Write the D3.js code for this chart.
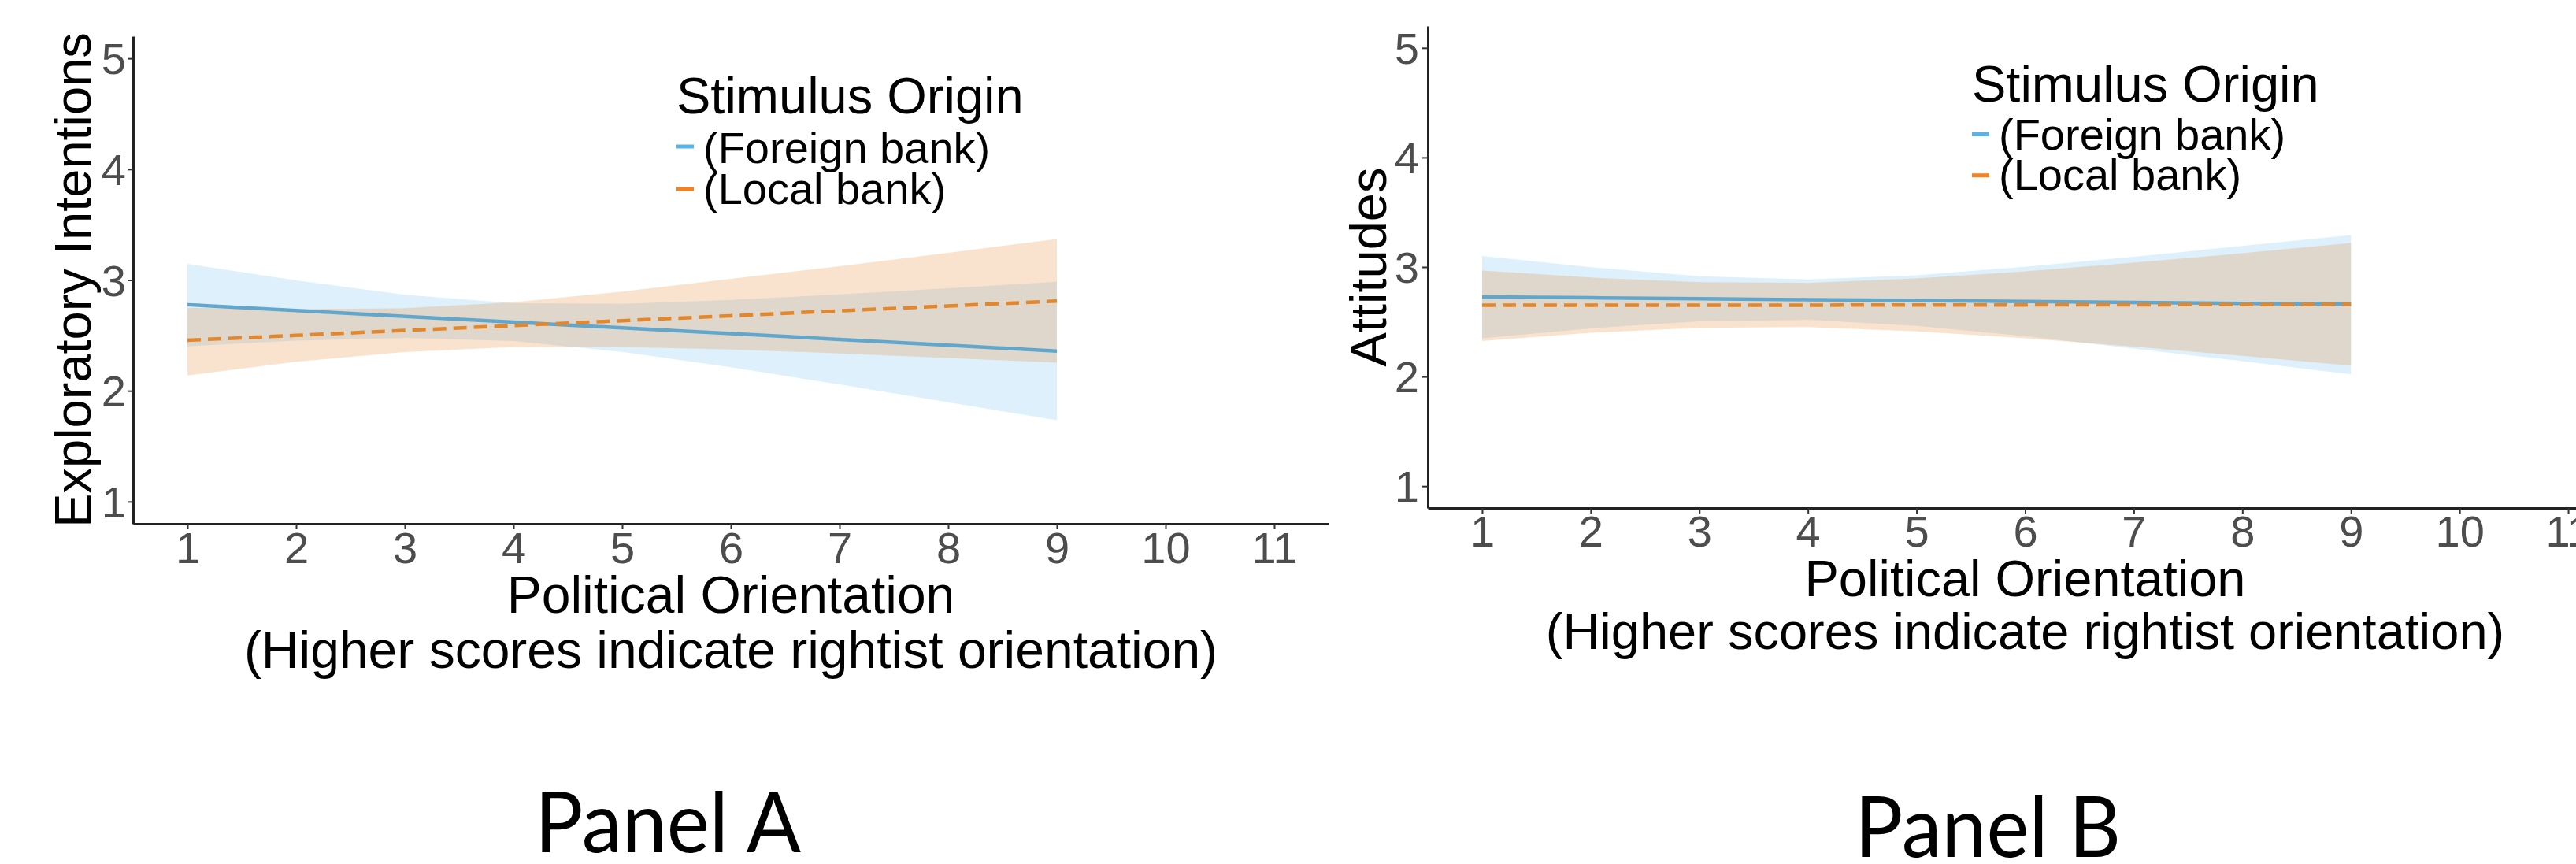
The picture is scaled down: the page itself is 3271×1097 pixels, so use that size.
<!DOCTYPE html>
<html>
<head>
<meta charset="utf-8">
<script src="https://cdn.jsdelivr.net/npm/d3@7"></script>
<style>
  html, body { margin: 0; padding: 0; background: #ffffff; }
  svg { display: block; }
</style>
</head>
<body>
<svg id="chart" width="3271" height="1097"></svg>
<script>
// ---------------- DATA ----------------
const xTicks = [1, 2, 3, 4, 5, 6, 7, 8, 9, 10, 11];
const yTicks = [1, 2, 3, 4, 5];
const xPoints = [1, 2, 3, 4, 5, 6, 7, 8, 9];
const seriesNames = ["(Foreign bank)", "(Local bank)"];
const legendTitle = "Stimulus Origin";
const xTitleLines = ["Political Orientation", "(Higher scores indicate rightist orientation)"];
const panelLabels = ["Panel A", "Panel B"];
const yTitles = ["Exploratory Intentions", "Attitudes"];

// Panel A: Exploratory Intentions
const aForeignFit  = [2.777, 2.725, 2.672, 2.620, 2.568, 2.516, 2.464, 2.411, 2.359];
const aForeignLow  = [2.402, 2.453, 2.477, 2.450, 2.351, 2.212, 2.058, 1.897, 1.734];
const aForeignHigh = [3.145, 2.997, 2.867, 2.790, 2.785, 2.820, 2.870, 2.925, 2.984];
const aLocalFit    = [2.456, 2.500, 2.545, 2.589, 2.633, 2.677, 2.722, 2.766, 2.810];
const aLocalLow    = [2.138, 2.263, 2.350, 2.395, 2.396, 2.373, 2.338, 2.297, 2.253];
const aLocalHigh   = [2.750, 2.737, 2.745, 2.800, 2.895, 3.010, 3.125, 3.245, 3.370];

// Panel B: Attitudes
const bForeignFit  = [2.727, 2.719, 2.710, 2.702, 2.694, 2.685, 2.677, 2.668, 2.660];
const bForeignLow  = [2.349, 2.440, 2.504, 2.518, 2.463, 2.369, 2.255, 2.140, 2.020];
const bForeignHigh = [3.100, 2.998, 2.916, 2.886, 2.925, 3.001, 3.093, 3.192, 3.292];
const bLocalFit    = [2.651, 2.651, 2.652, 2.652, 2.653, 2.654, 2.655, 2.657, 2.658];
const bLocalLow    = [2.325, 2.400, 2.445, 2.452, 2.413, 2.350, 2.273, 2.189, 2.100];
const bLocalHigh   = [2.968, 2.904, 2.861, 2.855, 2.895, 2.960, 3.039, 3.125, 3.219];

// ---------------- STYLE ----------------
const FONT = "'Liberation Sans', Arial, Helvetica, sans-serif";
const blueFill = "#56B4E9", orangeFill = "#E67E22";
const blueLine = "#63a6cc", orangeLine = "#e2872c";
const blueKey = "#56B4E9", orangeKey = "#F5821F";

const svg = d3.select("#chart");

const panels = [
  {
    left: 169, right: 1687, top: 46, bottom: 665,
    data: [
      {fit: aForeignFit, low: aForeignLow, high: aForeignHigh},
      {fit: aLocalFit, low: aLocalLow, high: aLocalHigh}
    ],
    yTitle: yTitles[0], yTitleX: 115, titleSize: 66, yTitleSize: 65,
    xPad: 3, yPad: 2,
    xTitleBase: [778, 848],
    legend: {x: 859, titleBase: 144, itemBase: [207, 259], keyY: [186, 240]},
    label: panelLabels[0], labelX: 848, labelBase: 1082
  },
  {
    left: 1813, right: 3330, top: 33, bottom: 645,
    data: [
      {fit: bForeignFit, low: bForeignLow, high: bForeignHigh},
      {fit: bLocalFit, low: bLocalLow, high: bLocalHigh}
    ],
    yTitle: yTitles[1], yTitleX: 1760, titleSize: 65, yTitleSize: 65,
    xPad: 2, yPad: 4,
    xTitleBase: [757, 824],
    legend: {x: 2504, titleBase: 129, itemBase: [189.5, 241], keyY: [170.5, 222.7]},
    label: panelLabels[1], labelX: 2524, labelBase: 1088
  }
];

panels.forEach(p => {
  const g = svg.append("g");
  const x = d3.scaleLinear().domain([0.5, 11.5]).range([p.left, p.right]);
  const y = d3.scaleLinear().domain([0.8, 5.2]).range([p.bottom, p.top]);

  const fills = [blueFill, orangeFill];
  const alphas = [0.2, 0.22];
  const lineCols = [blueLine, orangeLine];
  const dashes = [null, "17,9"];

  // ribbons
  p.data.forEach((s, i) => {
    const area = d3.area()
      .x((d, j) => x(xPoints[j]))
      .y0((d, j) => y(s.low[j]))
      .y1((d, j) => y(s.high[j]));
    g.append("path")
      .attr("d", area(xPoints))
      .attr("fill", fills[i])
      .attr("fill-opacity", alphas[i]);
  });
  // lines
  p.data.forEach((s, i) => {
    const line = d3.line()
      .x((d, j) => x(xPoints[j]))
      .y((d, j) => y(s.fit[j]));
    const path = g.append("path")
      .attr("d", line(xPoints))
      .attr("fill", "none")
      .attr("stroke", lineCols[i])
      .attr("stroke-width", 4.5);
    if (dashes[i]) path.attr("stroke-dasharray", dashes[i]);
  });

  // axes
  const xAxis = d3.axisBottom(x).tickValues(xTicks).tickSize(7).tickSizeOuter(0)
    .tickPadding(p.xPad).tickFormat(d3.format("d"));
  const yAxis = d3.axisLeft(y).tickValues(yTicks).tickSize(7).tickSizeOuter(0)
    .tickPadding(p.yPad).tickFormat(d3.format("d"));

  const gx = g.append("g").attr("transform", `translate(0,${p.bottom})`).call(xAxis);
  const gy = g.append("g").attr("transform", `translate(${p.left},0)`).call(yAxis);
  [gx, gy].forEach(ax => {
    ax.attr("font-family", FONT).attr("font-size", 56);
    ax.select(".domain").attr("stroke", "#222").attr("stroke-width", 3);
    ax.selectAll(".tick line").attr("stroke", "#333").attr("stroke-width", 2);
    ax.selectAll(".tick text").attr("fill", "#4d4d4d");
  });
  gy.selectAll(".tick text").attr("dy", "0.35em");

  // axis titles
  const cx = (p.left + p.right) / 2;
  xTitleLines.forEach((t, i) => {
    g.append("text")
      .attr("x", cx).attr("y", p.xTitleBase[i])
      .attr("text-anchor", "middle")
      .attr("font-family", FONT).attr("font-size", p.titleSize)
      .attr("fill", "#000").text(t);
  });
  g.append("text")
    .attr("transform", `translate(${p.yTitleX},${(p.top + p.bottom) / 2}) rotate(-90)`)
    .attr("text-anchor", "middle")
    .attr("font-family", FONT).attr("font-size", p.yTitleSize)
    .attr("fill", "#000").text(p.yTitle);

  // legend
  const L = p.legend;
  g.append("text")
    .attr("x", L.x).attr("y", L.titleBase)
    .attr("font-family", FONT).attr("font-size", 65)
    .attr("fill", "#000").text(legendTitle);
  const keyCols = [blueKey, orangeKey];
  seriesNames.forEach((n, i) => {
    g.append("line")
      .attr("x1", L.x).attr("x2", L.x + 22)
      .attr("y1", L.keyY[i]).attr("y2", L.keyY[i])
      .attr("stroke", keyCols[i]).attr("stroke-width", 5);
    g.append("text")
      .attr("x", L.x + 34).attr("y", L.itemBase[i])
      .attr("font-family", FONT).attr("font-size", 56)
      .attr("fill", "#000").text(n);
  });

  // panel label
  svg.append("text")
    .attr("x", p.labelX).attr("y", p.labelBase)
    .attr("text-anchor", "middle")
    .attr("font-family", "'Gill Sans', 'Gill Sans MT', Lato, sans-serif")
    .attr("font-size", 106)
    .attr("textLength", 338).attr("lengthAdjust", "spacingAndGlyphs")
    .attr("fill", "#000").text(p.label);
});
</script>
</body>
</html>
